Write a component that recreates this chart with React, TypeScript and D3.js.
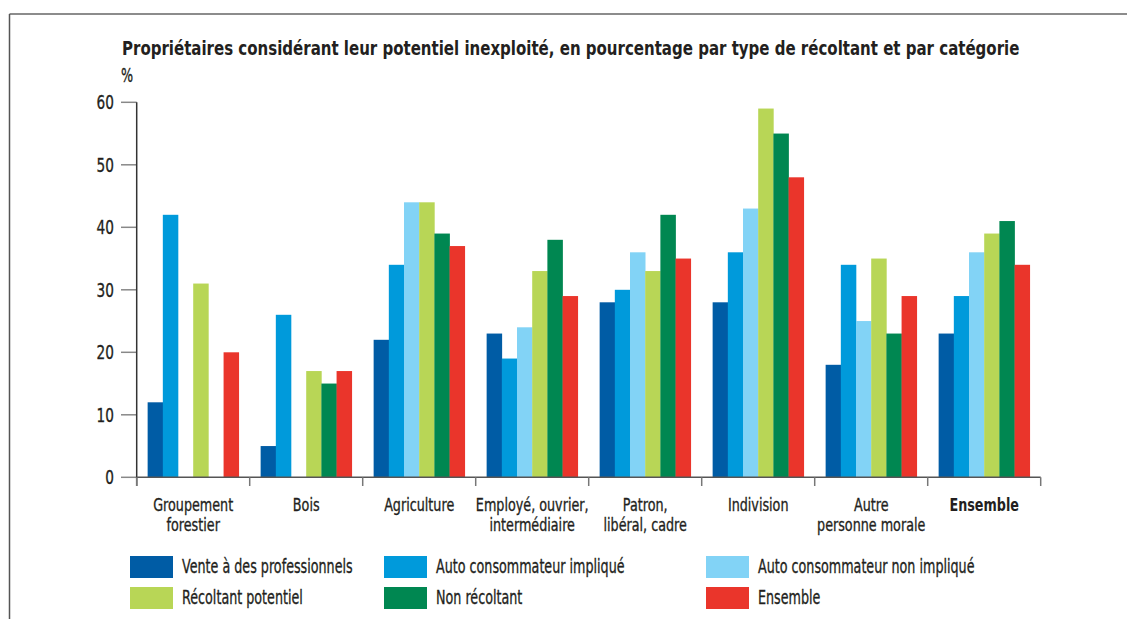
import React, { useLayoutEffect, useRef, useState } from "react";
import * as d3 from "d3";

const categories: string[][] = [
  ["Groupement", "forestier"],
  ["Bois"],
  ["Agriculture"],
  ["Employé, ouvrier,", "intermédiaire"],
  ["Patron,", "libéral, cadre"],
  ["Indivision"],
  ["Autre", "personne morale"],
  ["Ensemble"],
];
const boldCategory = 7;

const seriesNames = [
  "Vente à des professionnels",
  "Auto consommateur impliqué",
  "Auto consommateur non impliqué",
  "Récoltant potentiel",
  "Non récoltant",
  "Ensemble",
];
const seriesColors = ["#005CA5", "#009ADB", "#82D3F6", "#B8D656", "#008751", "#EA352B"];

// values[series][category]; null = no bar
const venteProfessionnels = [12, 5, 22, 23, 28, 28, 18, 23];
const autoImplique = [42, 26, 34, 19, 30, 36, 34, 29];
const autoNonImplique: (number | null)[] = [null, null, 44, 24, 36, 43, 25, 36];
const recoltantPotentiel = [31, 17, 44, 33, 33, 59, 35, 39];
const nonRecoltant: (number | null)[] = [null, 15, 39, 38, 42, 55, 23, 41];
const ensemble = [20, 17, 37, 29, 35, 48, 29, 34];
const values: (number | null)[][] = [
  venteProfessionnels,
  autoImplique,
  autoNonImplique,
  recoltantPotentiel,
  nonRecoltant,
  ensemble,
];
const yTicks = [0, 10, 20, 30, 40, 50, 60];

const titleText =
  "Propriétaires considérant leur potentiel inexploité, en pourcentage par type de récoltant et par catégorie";

const FONT = "'DejaVu Sans', sans-serif";
const SX = 0.67;
const TXT = "#231F20";

function T({ x, y, lines, anchor = "start", size = 19, bold = false, sx = SX }: any) {
  return (
    <text
      transform={`translate(${x},${y}) scale(${sx},1)`}
      textAnchor={anchor}
      fontFamily={FONT}
      fontSize={size}
      fontWeight={bold ? "bold" : "normal"}
      fill={TXT}
      stroke={TXT}
      strokeWidth={bold ? 0 : 0.35}
    >
      {(lines as string[]).map((ln, i) => (
        <tspan key={i} x={0} dy={i === 0 ? 0 : 20}>
          {ln}
        </tspan>
      ))}
    </text>
  );
}

export default function App() {
  const W = 1127, H = 619;
  const x0 = 136.7, x1 = 1040.7;
  const yScale = d3.scaleLinear().domain([0, 60]).range([477.3, 102.3]);
  const xScale = d3.scaleBand<number>().domain(d3.range(categories.length)).range([x0, x1]).padding(0);
  const inner = d3
    .scaleBand<number>()
    .domain(d3.range(seriesNames.length))
    .range([0, xScale.bandwidth()])
    .paddingInner(0)
    .paddingOuter(0.72);

  const legendCols = [130, 384, 706];
  const legendRows = [556, 587];

  const titleRef = useRef<SVGTextElement>(null);
  const [titleScale, setTitleScale] = useState(0.8);
  useLayoutEffect(() => {
    if (titleRef.current) {
      const w = titleRef.current.getComputedTextLength();
      if (w > 0) setTitleScale(898 / w);
    }
  }, []);

  return (
    <svg width={W} height={H} style={{ position: "absolute", left: 0, top: 0, background: "#fff" }}>
      {/* frame */}
      <line x1={9.5} y1={14} x2={W} y2={14} stroke="#666" strokeWidth={1.5} />
      <line x1={9.5} y1={14} x2={9.5} y2={H} stroke="#555" strokeWidth={1.5} />

      {/* title */}
      <text
        ref={titleRef}
        transform={`translate(122,55) scale(${titleScale},1)`}
        fontFamily={FONT}
        fontSize={20}
        fontWeight="bold"
        fill={TXT}
      >
        {titleText}
      </text>
      <T x={121} y={82} lines={["%"]} />

      {/* y axis */}
      {yTicks.map((t) => (
        <g key={t}>
          <line x1={121} x2={x0} y1={yScale(t)} y2={yScale(t)} stroke="#888" strokeWidth={1.5} />
          <T x={114} y={yScale(t) + 7} lines={[String(t)]} anchor="end" sx={0.72} />
        </g>
      ))}

      {/* bars */}
      {values.map((ser, si) =>
        ser.map((v, ci) =>
          v == null ? null : (
            <rect
              key={`${si}-${ci}`}
              x={(xScale(ci) as number) + (inner(si) as number)}
              y={yScale(v)}
              width={inner.bandwidth() + 0.3}
              height={yScale(0) - yScale(v)}
              fill={seriesColors[si]}
            />
          )
        )
      )}

      {/* axes lines */}
      <line x1={x0} x2={x0} y1={yScale(60)} y2={486} stroke="#333" strokeWidth={1.5} />
      <line x1={x0} x2={x1} y1={yScale(0)} y2={yScale(0)} stroke="#555" strokeWidth={1.5} />
      {d3.range(categories.length + 1).map((i) => {
        const xx = x0 + i * xScale.step();
        return <line key={i} x1={xx} x2={xx} y1={yScale(0)} y2={486} stroke="#777" strokeWidth={1.5} />;
      })}

      {/* category labels */}
      {categories.map((lines, ci) => (
        <T
          key={ci}
          x={(xScale(ci) as number) + xScale.bandwidth() / 2}
          y={511}
          lines={lines}
          anchor="middle"
          size={17}
          sx={0.75}
          bold={ci === boldCategory}
        />
      ))}

      {/* legend */}
      {seriesNames.map((name, i) => {
        const cx = legendCols[i % 3];
        const cy = legendRows[Math.floor(i / 3)];
        return (
          <g key={name}>
            <rect x={cx} y={cy} width={43} height={22} fill={seriesColors[i]} />
            <T x={cx + 52} y={cy + 17} lines={[name]} />
          </g>
        );
      })}
    </svg>
  );
}
